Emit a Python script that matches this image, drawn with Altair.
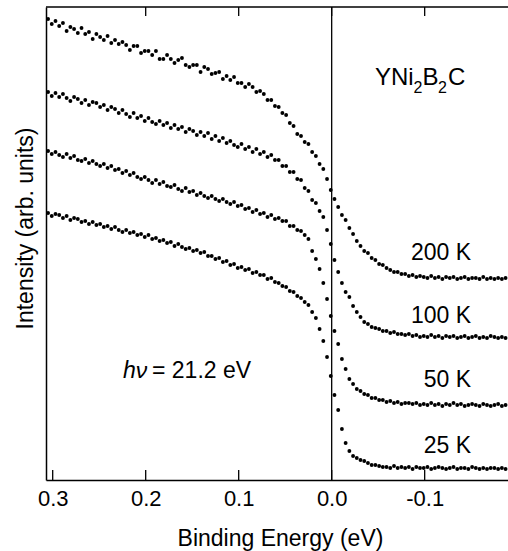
import altair as alt
import pandas as pd

# ---------------- data ----------------
energy_start = 0.305   # eV, first sample (left)
energy_step = 0.004    # eV between samples
temperatures = ["200 K", "100 K", "50 K", "25 K"]

int_200K = [461, 456, 459, 454, 457, 449, 453, 451, 447, 452,
            446, 448, 441, 446, 443, 440, 444, 437, 440, 436,
            438, 435, 430, 434, 434, 427, 429, 429, 425, 429,
            421, 421, 425, 421, 417, 420, 422, 415, 413, 415,
            415, 408, 413, 411, 406, 407, 408, 401, 404, 400,
            403, 397, 397, 393, 396, 393, 388, 389, 386, 380,
            380, 374, 373, 367, 365, 357, 354, 346, 344, 338,
            336, 328, 324, 316, 311, 301, 290, 281, 273, 265,
            260, 252, 246, 239, 234, 229, 227, 222, 220, 216,
            215, 212, 210, 208, 208, 206, 206, 204, 205, 203,
            204, 203, 202, 204, 202, 203, 201, 203, 202, 203,
            201, 202, 203, 201, 202, 202, 201, 203, 201, 202,
            201, 202, 201, 202]

int_100K = [388, 384, 387, 383, 386, 382, 379, 383, 381, 377,
            380, 375, 378, 377, 373, 375, 370, 373, 371, 367,
            370, 366, 363, 367, 362, 364, 359, 362, 358, 356,
            359, 355, 357, 352, 355, 351, 353, 348, 351, 349,
            345, 348, 344, 347, 341, 344, 339, 342, 337, 339,
            335, 333, 336, 331, 333, 328, 331, 326, 328, 323,
            325, 320, 320, 314, 314, 308, 308, 301, 300, 292,
            289, 280, 277, 269, 263, 250, 236, 220, 208, 197,
            188, 183, 174, 168, 163, 158, 156, 153, 152, 151,
            149, 149, 147, 148, 146, 146, 145, 146, 144, 145,
            143, 144, 143, 145, 143, 144, 142, 144, 143, 144,
            142, 143, 144, 142, 143, 144, 142, 143, 142, 144,
            143, 142, 143, 142]

int_50K = [329, 326, 328, 325, 323, 326, 322, 324, 320, 319,
           321, 317, 319, 316, 314, 316, 312, 314, 310, 311,
           307, 309, 305, 307, 303, 301, 303, 300, 297, 300,
           296, 298, 294, 293, 295, 291, 289, 292, 288, 289,
           285, 287, 284, 282, 284, 281, 279, 281, 278, 276,
           278, 274, 275, 271, 272, 268, 270, 266, 267, 263,
           265, 261, 262, 259, 259, 254, 254, 250, 249, 245,
           241, 229, 221, 211, 197, 181, 164, 149, 136, 121,
           111, 101, 96, 91, 89, 86, 85, 82, 82, 80,
           80, 78, 79, 77, 78, 76, 77, 77, 76, 77,
           75, 76, 75, 77, 75, 76, 74, 76, 75, 77,
           75, 76, 74, 75, 76, 75, 74, 76, 75, 74,
           75, 76, 74, 75]

int_25K = [267, 264, 266, 265, 262, 264, 260, 262, 261, 258,
           259, 256, 258, 255, 256, 253, 254, 251, 253, 250,
           248, 250, 247, 248, 245, 246, 243, 245, 241, 242,
           239, 240, 237, 238, 234, 236, 233, 231, 232, 229,
           230, 227, 228, 224, 224, 221, 222, 218, 219, 215,
           216, 212, 213, 210, 211, 207, 208, 205, 205, 201,
           202, 198, 197, 194, 193, 189, 188, 184, 182, 178,
           175, 168, 162, 151, 139, 123, 104, 85, 70, 51,
           37, 29, 24, 22, 20, 19, 17, 15, 15, 14,
           13, 13, 12, 14, 12, 13, 12, 13, 11, 13,
           12, 12, 13, 11, 12, 13, 12, 11, 12, 13,
           11, 12, 12, 11, 13, 12, 11, 12, 11, 12,
           12, 11, 12, 11]

tick_values = [0.3, 0.2, 0.1, 0.0, -0.1]
top_tick_values = [0.2, 0.1, 0.0, -0.1]

# ---------------- build table ----------------
series = [int_200K, int_100K, int_50K, int_25K]
rows = []
for t, vals in zip(temperatures, series):
    for i, v in enumerate(vals):
        rows.append({"E": round(energy_start - energy_step * i, 3), "I": v, "T": t})
df = pd.DataFrame(rows)

W, H = 462, 473
FONT = "Liberation Sans"

xscale = alt.Scale(domain=[-0.1896, 0.3072], reverse=True, nice=False, zero=False)
yscale = alt.Scale(domain=[0, 473], nice=False, zero=False)

label_expr = "datum.value < 0 ? '-' + format(-datum.value, '.1f') : format(datum.value, '.1f')"

points = alt.Chart(df).mark_circle(size=15, color="black", opacity=1).encode(
    x=alt.X("E:Q", scale=xscale, axis=alt.Axis(
        values=tick_values, ticks=False, grid=False, domain=True,
        domainColor="black", domainWidth=1.5, labelExpr=label_expr,
        labelFont=FONT, labelFontSize=22, labelColor="black",
        labelBaseline="alphabetic", labelPadding=25, labelOverlap=False,
        labelFlush=False,
        title="Binding Energy (eV)", titleFont=FONT, titleFontSize=23,
        titleFontWeight="normal", titleColor="black",
        titleX=234, titleY=65, titleAlign="center", titleBaseline="alphabetic")),
    y=alt.Y("I:Q", scale=yscale, axis=alt.Axis(
        labels=False, ticks=False, grid=False, domain=True,
        domainColor="black", domainWidth=1.5,
        title="Intensity (arb. units)", titleFont=FONT, titleFontSize=23,
        titleFontWeight="normal", titleColor="black",
        titleX=-14, titleY=221, titleAngle=270, titleAlign="center",
        titleBaseline="alphabetic")),
    detail="T:N",
)

zero_line = alt.Chart(pd.DataFrame({"E": [0.0]})).mark_rule(
    color="black", strokeWidth=1.3).encode(x=alt.X("E:Q", scale=xscale))

bottom_ticks = alt.Chart(pd.DataFrame({"E": tick_values})).mark_rule(
    color="black", strokeWidth=1.3).encode(
    x=alt.X("E:Q", scale=xscale), y=alt.value(H - 10), y2=alt.value(H))

top_ticks = alt.Chart(pd.DataFrame({"E": top_tick_values})).mark_rule(
    color="black", strokeWidth=1.3).encode(
    x=alt.X("E:Q", scale=xscale), y=alt.value(0), y2=alt.value(9))

top_border = alt.Chart(pd.DataFrame({"a": [0]})).mark_rule(
    color="black", strokeWidth=1.5).encode(
    x=alt.value(0), x2=alt.value(W), y=alt.value(0))

one = pd.DataFrame({"a": [0]})
layers = [points, zero_line, bottom_ticks, top_ticks, top_border]

# temperature labels (right aligned)
label_baselines = [253, 316, 380, 446]
for t, yb in zip(temperatures, label_baselines):
    layers.append(alt.Chart(one).mark_text(
        text=t, font=FONT, fontSize=23, align="right", baseline="alphabetic",
        color="black").encode(x=alt.value(425), y=alt.value(yb)))

# photon energy annotation
layers.append(alt.Chart(one).mark_text(
    text="h\u03bd", font=FONT, fontSize=23, fontStyle="italic", align="left",
    baseline="alphabetic", color="black").encode(x=alt.value(77), y=alt.value(371)))
layers.append(alt.Chart(one).mark_text(
    text="= 21.2 eV", font=FONT, fontSize=23, align="left",
    baseline="alphabetic", color="black").encode(x=alt.value(106), y=alt.value(371)))

# compound name YNi2B2C with subscripts
formula_parts = [("YNi", 329, 78, 24), ("2", 367.5, 86, 16), ("B", 376.5, 78, 24),
                 ("2", 392, 86, 16), ("C", 402, 78, 24)]
for txt, px, py, fs in formula_parts:
    layers.append(alt.Chart(one).mark_text(
        text=txt, font=FONT, fontSize=fs, align="left", baseline="alphabetic",
        color="black").encode(x=alt.value(px), y=alt.value(py)))

chart = alt.layer(*layers).properties(
    width=W, height=H,
    autosize=alt.AutoSizeParams(type="none"),
    padding={"left": 46, "top": 7, "right": 0, "bottom": 71},
    background="white",
).configure_view(stroke=None)

chart.save("out.html", embed_options={"renderer": "svg", "actions": False})
